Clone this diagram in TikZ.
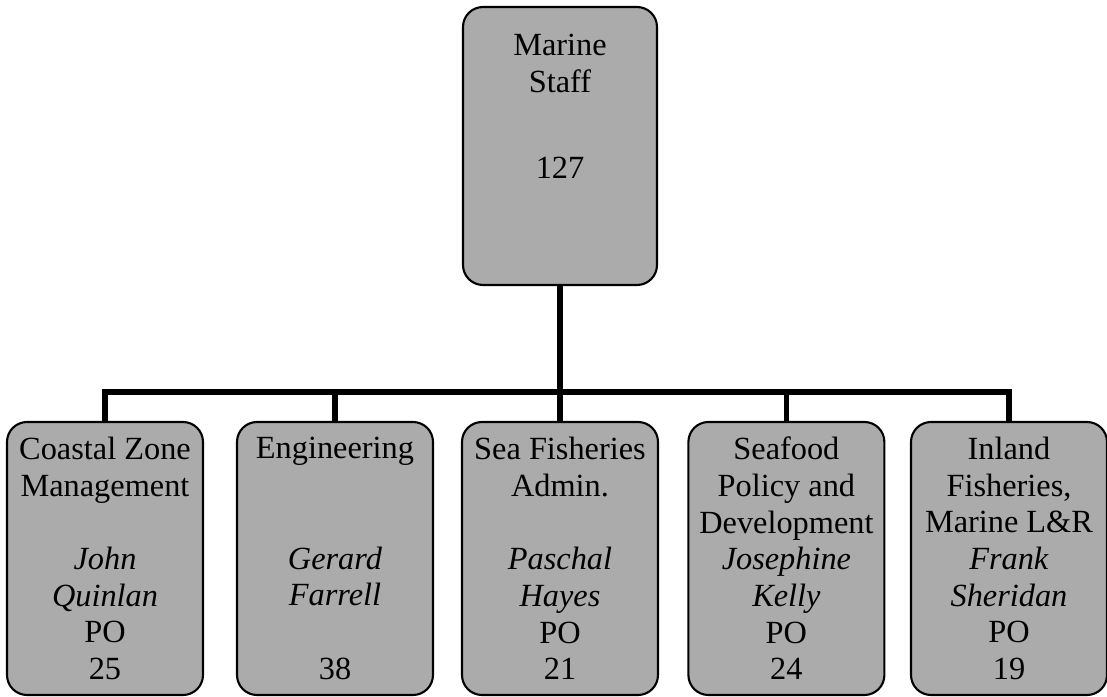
\documentclass[tikz,border=0pt]{standalone}
\usepackage{fontspec}
\setmainfont{Liberation Serif}

\begin{document}
\begin{tikzpicture}[
    unit/.style={draw, line width=1.5pt, rounded corners=0.5cm, fill=black!33,
        align=center, font=\fontsize{23}{26.1}\selectfont,
        minimum width=4.9cm, minimum height=6.825cm, inner sep=0pt},
    link/.style={line width=4pt}]
\useasboundingbox (0,0) rectangle (27.675,17.4);
\node[unit, minimum width=4.85cm, minimum height=6.95cm] (staff) at (14,13.75)
    {Marine\\Staff\\[1.225cm]127\\[1.07cm]~};
\node[unit] (coastal) at (2.625,3.4375)
    {Coastal Zone\\Management\\ \\\textit{John}\\\textit{Quinlan}\\PO\\25};
\node[unit] (eng) at (8.375,3.4375)
    {Engineering\\ \\ \\\textit{Gerard}\\\textit{Farrell}\\ \\38};
\node[unit] (seafish) at (14,3.4375)
    {Sea Fisheries\\Admin.\\ \\\textit{Paschal}\\\textit{Hayes}\\PO\\21};
\node[unit] (seafood) at (19.66,3.4375)
    {Seafood\\Policy and\\Development\\\textit{Josephine}\\\textit{Kelly}\\PO\\24};
\node[unit] (inland) at (25.225,3.4375)
    {Inland\\Fisheries,\\Marine L\&R\\\textit{Frank}\\\textit{Sheridan}\\PO\\19};
\coordinate (bar) at (14,7.6);
\draw[link] (staff.south) -- (seafish.north);
\draw[link] (coastal.north) |- (bar) -| (inland.north);
\draw[link] (eng.north) -- (eng.north |- bar);
\draw[link] (seafood.north) -- (seafood.north |- bar);
\end{tikzpicture}
\end{document}
